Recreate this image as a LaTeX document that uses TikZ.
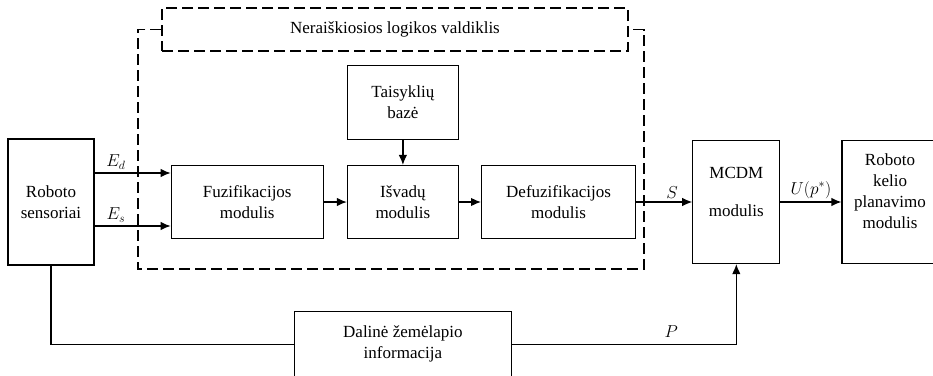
\documentclass[tikz,border=0pt]{standalone}
\usepackage{fontspec}
\setmainfont{Liberation Serif}
\newfontfamily\blockfont{Liberation Serif}
\usetikzlibrary{arrows.meta,positioning}
\begin{document}
\begin{tikzpicture}[>={Latex[length=10pt,width=8.5pt]}, x=1pt, y=-1pt, line width=1.2pt]
        \tikzset{block/.style= {draw, rectangle, align=center, font=\blockfont\fontsize{17}{21}\selectfont, inner sep=2pt},
        dblock/.style={block, dash pattern=on 11pt off 5pt},
        dframe/.style={draw, dash pattern=on 11pt off 5pt},
        lbl/.style={above, font=\fontsize{17}{21}\selectfont, inner sep=3pt}
        }
        \useasboundingbox (0,0) rectangle (933,375);
        \node [block, minimum width=86pt, minimum height=126pt] (sensors) at (51,202) {Roboto\\sensoriai};
        \node [block, minimum width=152pt, minimum height=73pt, right =76pt of sensors] (fuzz) {Fuzifikacijos\\modulis};
        \node [block, minimum width=111pt, minimum height=73pt, right =23pt of fuzz] (infer) {Išvadų\\modulis};
        \node [block, minimum width=111pt, minimum height=74pt, above =25pt of infer] (rules) {Taisyklių\\bazė};
        \node [block, minimum width=154pt, minimum height=73pt, right =22pt of infer] (defuzz) {Defuzifikacijos\\modulis};
        \node [block, minimum width=87pt, minimum height=123pt, right =56pt of defuzz] (mcdm) {MCDM\\[17pt]modulis\\~};
        \node [block, minimum width=96pt, minimum height=123pt, right =61pt of mcdm] (planner) {Roboto\\kelio\\planavimo\\modulis\\~};
        \node [block, minimum width=217pt, minimum height=66pt, below =71.5pt of infer] (mapinfo) {Dalinė žemėlapio\\informacija};
        \node [dblock, minimum width=466pt, minimum height=43pt] (title) at (395,29.5) {Neraiškiosios logikos valdiklis};
        \draw[dframe] (title.west) -| (138,269) -| (644,29.5) -- (title.east);
%% paths
        \path[draw,->] ([yshift=29pt]sensors.east) -- node[lbl, pos=0.28] {$E_d$} ([yshift=29pt]sensors.east -| fuzz.west);
        \path[draw,->] ([yshift=-24pt]sensors.east) -- node[lbl, pos=0.28] {$E_s$} ([yshift=-24pt]sensors.east -| fuzz.west);
        \path[draw,->] (fuzz) edge (infer)
                    (infer) edge (defuzz)
                    (rules) edge (infer)
                    (defuzz) edge node[lbl, pos=0.64] {$S$} (mcdm)
                    (mcdm) edge node[lbl] {$U(p^*)$} (planner)
                    ;
        \path[draw] (sensors) |- (mapinfo);
        \path[draw,->] (mapinfo) -| node[lbl, pos=0.355, yshift=3pt] {$P$} (mcdm);
    \end{tikzpicture}
\end{document}
